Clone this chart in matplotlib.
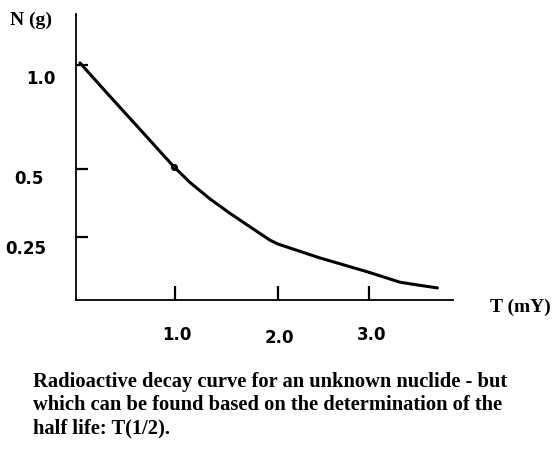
import numpy as np
import matplotlib
matplotlib.use("Agg")
import matplotlib.pyplot as plt
import matplotlib.transforms as mtransforms

# values (T in mY, N in g)
t_vals = [0.04, 0.33, 0.68, 0.99, 1.15, 1.34, 1.53, 1.73, 1.92, 2.0,
          2.46, 2.99, 3.34, 3.53, 3.76]
n_vals = [1.01, 0.856, 0.673, 0.51, 0.449, 0.39, 0.338, 0.287, 0.238, 0.222,
          0.167, 0.111, 0.071, 0.06, 0.048]

x_ticks = [1.0, 2.0, 3.0]
x_labels = ["1.0", "2.0", "3.0"]
y_ticks = [1.0, 0.5, 0.25]
y_labels = ["1.0", "0.5", "0.25"]

caption = ("Radioactive decay curve for an unknown nuclide - but\n"
           "which can be found based on the determination of the\n"
           "half life: T(1/2).")

# the hand drawn axes are not evenly spaced, so map them piecewise
x_knots = [0, 1, 2, 3, 4]
x_draw = [0, 99, 202, 293, 383]
y_knots = [0, 0.25, 0.5, 1.0, 1.5]
y_draw = [0, 63, 131, 235, 339]


def fwd_x(v):
    return np.interp(v, x_knots, x_draw)


def inv_x(v):
    return np.interp(v, x_draw, x_knots)


def fwd_y(v):
    return np.interp(v, y_knots, y_draw)


def inv_y(v):
    return np.interp(v, y_draw, y_knots)


W, H = 558, 451
fig = plt.figure(figsize=(W / 100, H / 100), dpi=100)
ax = fig.add_axes([76 / W, (H - 300) / H, (453 - 76) / W, (300 - 14) / H])

ax.set_xscale("function", functions=(fwd_x, inv_x))
ax.set_yscale("function", functions=(fwd_y, inv_y))
ax.set_xlim(0, inv_x(377))
ax.set_ylim(0, inv_y(286))

ax.plot(t_vals, n_vals, color="black", lw=2.2, solid_capstyle="round",
        solid_joinstyle="round", marker="o", markersize=4, markevery=[3])

for side in ["top", "right"]:
    ax.spines[side].set_visible(False)
for side in ["left", "bottom"]:
    ax.spines[side].set_linewidth(1.3)

ax.set_xticks(x_ticks)
ax.set_xticklabels(x_labels)
ax.set_yticks(y_ticks)
ax.set_yticklabels(y_labels)
ax.minorticks_off()

ax.tick_params(axis="x", direction="in", length=10, width=1.6, pad=19,
               labelsize=12)
ax.tick_params(axis="y", direction="in", length=8.5, width=1.6, pad=18,
               labelsize=12)
for lab in ax.get_xticklabels() + ax.get_yticklabels():
    lab.set_fontweight("bold")
    lab.set_fontfamily("DejaVu Sans")

# labels in the sketch are placed a bit unevenly around their ticks (px)
y_nudge = [(5, -12), (-7, -8), (-5, -10)]
x_nudge = [(2, 0), (1, -3), (3, 0)]
for lab, (dx, dy) in zip(ax.get_yticklabels(), y_nudge):
    off = mtransforms.ScaledTranslation(dx / 100, dy / 100, fig.dpi_scale_trans)
    lab.set_transform(lab.get_transform() + off)
for lab, (dx, dy) in zip(ax.get_xticklabels(), x_nudge):
    off = mtransforms.ScaledTranslation(dx / 100, dy / 100, fig.dpi_scale_trans)
    lab.set_transform(lab.get_transform() + off)

fig.text(10 / W, 1 - 20 / H, "N (g)", fontsize=14, fontweight="bold",
         family="Liberation Serif", va="center", ha="left")
fig.text(490 / W, 1 - 307 / H, "T (mY)", fontsize=14, fontweight="bold",
         family="Liberation Serif", va="center", ha="left")

fig.text(33 / W, 1 - 372 / H, caption, fontsize=14.8, fontweight="bold",
         family="Liberation Serif", va="top", ha="left", linespacing=1.2)

fig.savefig("out.png", dpi=100)
